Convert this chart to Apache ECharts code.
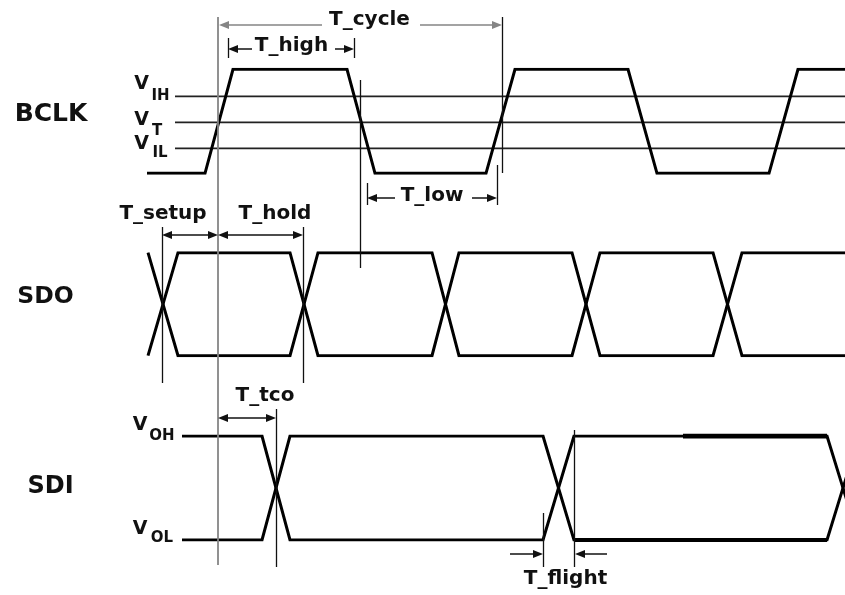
<!DOCTYPE html>
<html><head><meta charset="utf-8">
<script src="https://cdn.jsdelivr.net/npm/echarts@6/dist/echarts.min.js"></script>
<style>html,body{margin:0;padding:0;background:#fff}#c{width:845px;height:595px}</style>
</head><body><div id="c"></div>
<script>
// ---- waveform data (time axis in diagram units, levels 0 = low, 1 = high) ----
const bclkTime  = [147, 205, 233, 347, 375, 486, 515, 628, 657, 769, 798, 845];
const bclkLevel = [0, 0, 1, 1, 0, 0, 1, 1, 0, 0, 1, 1];
const thresholdNames  = ['IH', 'T', 'IL'];
const thresholdLevels = [0.74, 0.49, 0.24];
const thresholdStart  = 175;
const sdoTime   = [148, 178, 290, 318, 432, 459, 572, 600, 713, 742, 845];
const sdoLevelA = [1, 0, 0, 1, 1, 0, 0, 1, 1, 0, 0];
const sdoLevelB = [0, 1, 1, 0, 0, 1, 1, 0, 0, 1, 1];
const sdiTime   = [182, 262, 290, 543, 574, 827, 859];
const sdiLevelA = [1, 1, 0, 0, 1, 1, 0];
const sdiLevelB = [0, 0, 1, 1, 0, 0, 1];
const sdiHoldHighTime = [683, 827];
const sdiHoldLowTime  = [574, 827];
// ---- timing marks (time instants) ----
const tClkEdge = 218, tHighStart = 228, tHighEnd = 354, tFall = 360;
const tLowStart = 367, tLowEnd = 497, tCycleEnd = 502;
const tSetup = 162, tHold = 303, tTco = 276, tFlightA = 543, tFlightB = 574;

const zip = (t, v) => t.map((x, i) => [x, v[i]]);
const BLACK = '#111', GRAY = '#858585', TXT = '#111';
const FONT = 'DejaVu Sans';
const HEAD = 10;   // arrowhead length

const grids = [
  {left: 0, right: 0, top: 69.3, height: 104},   // BCLK
  {left: 0, right: 0, top: 252.7, height: 103},  // SDO
  {left: 0, right: 0, top: 436, height: 104},    // SDI
  {left: 0, right: 0, top: 0, height: 595}       // annotation overlay
];
const xAxes = grids.map((g, i) => ({type: 'value', gridIndex: i, min: 0, max: 845, show: false}));
const yAxes = grids.map((g, i) => i < 3
  ? {type: 'value', gridIndex: i, min: 0, max: 1, show: false}
  : {type: 'value', gridIndex: i, min: 0, max: 595, inverse: true, show: false});

function sig(data, gi, w) {
  return {type: 'line', xAxisIndex: gi, yAxisIndex: gi, data, symbol: 'none', silent: true,
    lineStyle: {color: '#000', width: w || 3, join: 'miter', cap: 'butt'}, z: 3};
}
const series = [];
series.push(sig(zip(bclkTime, bclkLevel), 0));
thresholdLevels.forEach(l => series.push({type: 'line', xAxisIndex: 0, yAxisIndex: 0, symbol: 'none', silent: true,
  data: [[thresholdStart, l], [845, l]], lineStyle: {color: '#222', width: 1.6}, z: 2}));
series.push(sig(zip(sdoTime, sdoLevelA), 1));
series.push(sig(zip(sdoTime, sdoLevelB), 1));
series.push(sig(zip(sdiTime, sdiLevelA), 2));
series.push(sig(zip(sdiTime, sdiLevelB), 2));
series.push(sig(sdiHoldHighTime.map(t => [t, 1]), 2, 5));
series.push(sig(sdiHoldLowTime.map(t => [t, 0]), 2, 4.2));

// annotation helpers (overlay grid: y in layout rows)
const ls = (color, w) => ({color, width: w, type: 'solid'});
const vline = (t, y0, y1, color, w) => [
  {coord: [t, y0], symbol: 'none', lineStyle: ls(color, w)},
  {coord: [t, y1], symbol: 'none', lineStyle: ls(color, w)}];
// arrow whose tips touch t0 / t1 (the symbol is centred on the end point, so pull it in by half its length)
const arrow = (t0, t1, y, s0, s1, color) => {
  const dir = t1 > t0 ? 1 : -1;
  return [
    {coord: [s0 ? t0 + dir * HEAD / 2 : t0, y], symbol: s0 ? 'triangle' : 'none', lineStyle: ls(color || BLACK, 1.5)},
    {coord: [s1 ? t1 - dir * HEAD / 2 : t1, y], symbol: s1 ? 'triangle' : 'none', lineStyle: ls(color || BLACK, 1.5)}];
};
// plain line segment under arrowheads so the shaft reaches the tip
const shaft = (t0, t1, y, color) => [
  {coord: [t0, y], symbol: 'none', lineStyle: ls(color || BLACK, 1.5)},
  {coord: [t1, y], symbol: 'none', lineStyle: ls(color || BLACK, 1.5)}];

const mlData = [
  vline(tClkEdge, 17, 565, GRAY, 1.8),
  vline(tCycleEnd, 17, 173, BLACK, 1.3),
  vline(tHighStart, 38, 58, BLACK, 1.3),
  vline(tHighEnd, 38, 58, BLACK, 1.3),
  vline(tFall, 80, 268, BLACK, 1.3),
  vline(tLowStart, 183, 205, BLACK, 1.3),
  vline(tLowEnd, 165, 205, BLACK, 1.3),
  vline(tSetup, 227, 383, BLACK, 1.3),
  vline(tHold, 227, 383, BLACK, 1.3),
  vline(tTco, 409, 567, BLACK, 1.3),
  vline(tFlightA, 513, 567, BLACK, 1.3),
  vline(tFlightB, 430, 567, BLACK, 1.3),
  arrow(tClkEdge + 1, 322, 25, true, false, GRAY),
  arrow(420, tCycleEnd, 25, false, true, GRAY),
  arrow(tHighStart, 252, 49, true, false),
  arrow(335, tHighEnd, 49, false, true),
  arrow(tLowStart, 395, 198, true, false),
  arrow(472, tLowEnd, 198, false, true),
  arrow(tSetup, tClkEdge, 235, true, true),
  arrow(tClkEdge, tHold, 235, true, true),
  arrow(tClkEdge, tTco, 418, true, true),
  arrow(510, tFlightA, 554, false, true),
  arrow(607, tFlightB + 1, 554, false, true)
];

const texts = [
  ['BCLK', 51, 114, 25], ['SDO', 45.5, 296.5, 23.5], ['SDI', 50.5, 486.5, 24],
  ['V', 141.5, 84.5, 19], ['IH', 160.5, 96.5, 15],
  ['V', 141.5, 120, 19], ['T', 157, 131, 15],
  ['V', 141.5, 144.5, 19], ['IL', 160, 153.5, 15],
  ['V', 140, 425.5, 19], ['OH', 162, 436.5, 15],
  ['V', 140, 529.5, 19], ['OL', 162, 538, 15],
  ['T_cycle', 369.5, 20, 20], ['T_high', 291.5, 46, 20], ['T_low', 432, 196, 20],
  ['T_setup', 163, 214, 20], ['T_hold', 275, 214, 20], ['T_tco', 265, 396, 20],
  ['T_flight', 565.5, 579, 20]
];

series.push({
  type: 'scatter', xAxisIndex: 3, yAxisIndex: 3, symbolSize: 0, silent: true, z: 5,
  itemStyle: {color: TXT},
  data: texts.map(d => ({value: [d[1], d[2]],
    label: {formatter: d[0], fontSize: d[3], color: TXT, textBorderWidth: 0, opacity: 1}})),
  label: {show: true, position: 'inside', color: TXT, fontFamily: FONT, fontWeight: 'bold', textBorderWidth: 0},
  markLine: {silent: true, animation: false, symbolSize: [8, HEAD],
    lineStyle: {type: 'solid', opacity: 1},
    label: {show: false}, emphasis: {disabled: true}, data: mlData}
});

const chart = echarts.init(document.getElementById('c'), null, {renderer: 'canvas'});
chart.setOption({animation: false, backgroundColor: '#fff', grid: grids, xAxis: xAxes, yAxis: yAxes, series});
</script></body></html>
